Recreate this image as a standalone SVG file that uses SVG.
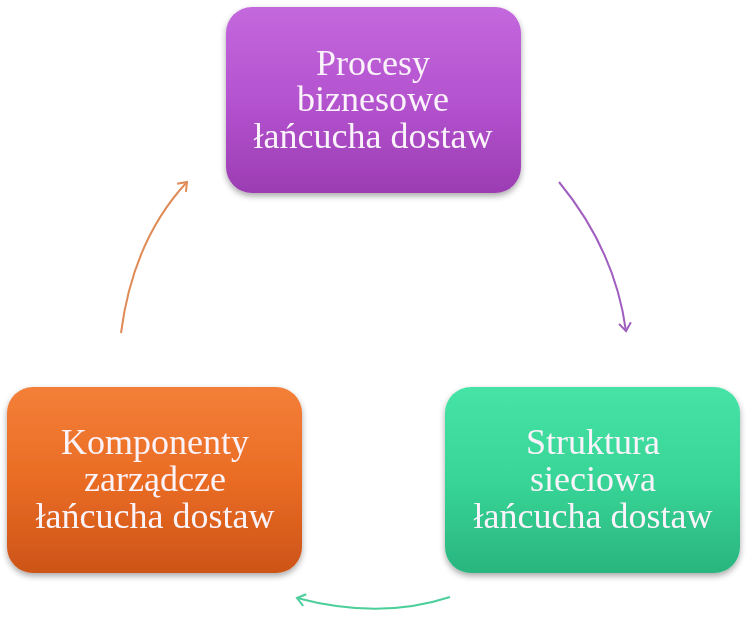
<svg xmlns="http://www.w3.org/2000/svg" width="748" height="620" viewBox="0 0 748 620">
<defs>
<linearGradient id="gP" x1="0" y1="0" x2="0" y2="1"><stop offset="0" stop-color="#c468dd"/><stop offset="0.5" stop-color="#b453cf"/><stop offset="1" stop-color="#9c3db3"/></linearGradient>
<linearGradient id="gG" x1="0" y1="0" x2="0" y2="1"><stop offset="0" stop-color="#46e3a6"/><stop offset="0.5" stop-color="#38d597"/><stop offset="1" stop-color="#29b57e"/></linearGradient>
<linearGradient id="gO" x1="0" y1="0" x2="0" y2="1"><stop offset="0" stop-color="#f37f38"/><stop offset="0.5" stop-color="#ea6c24"/><stop offset="1" stop-color="#cc5418"/></linearGradient>
<filter id="sh" x="-10%" y="-10%" width="120%" height="125%"><feGaussianBlur in="SourceAlpha" stdDeviation="3"/><feOffset dx="0" dy="3"/><feComponentTransfer><feFuncA type="linear" slope="0.35"/></feComponentTransfer><feMerge><feMergeNode/><feMergeNode in="SourceGraphic"/></feMerge></filter>
<marker id="aP" markerWidth="14" markerHeight="14" refX="10" refY="7" orient="auto" markerUnits="userSpaceOnUse"><path d="M2,1 L10,7 L2,13" fill="none" stroke="#a05fc0" stroke-width="2"/></marker>
<marker id="aG" markerWidth="14" markerHeight="14" refX="10" refY="7" orient="auto" markerUnits="userSpaceOnUse"><path d="M2,1 L10,7 L2,13" fill="none" stroke="#4ccf9a" stroke-width="2"/></marker>
<marker id="aO" markerWidth="14" markerHeight="14" refX="10" refY="7" orient="auto" markerUnits="userSpaceOnUse"><path d="M2,1 L10,7 L2,13" fill="none" stroke="#e08a55" stroke-width="2"/></marker>
</defs>
<style>
.t{font-family:"Liberation Serif","Times New Roman",serif;font-size:36px;fill:#fbf3fa;text-anchor:middle}
.c{fill:none;stroke-width:2}
</style>
<rect width="748" height="620" fill="#ffffff"/>
<g id="connectors">
<path class="c" d="M559,182 Q615,250 626,331" stroke="#a05fc0" marker-end="url(#aP)"/>
<path class="c" d="M450,597 Q380,620 297,598" stroke="#4ccf9a" marker-end="url(#aG)"/>
<path class="c" d="M121,333 Q133,240 187,182" stroke="#e08a55" marker-end="url(#aO)"/>
</g>
<g id="node-procesy" filter="url(#sh)">
<rect x="226" y="7" width="295" height="186" rx="26" fill="url(#gP)"/>
<text class="t" x="373" y="75">Procesy</text>
<text class="t" x="373" y="111">biznesowe</text>
<text class="t" x="373" y="148">łańcucha dostaw</text>
</g>
<g id="node-struktura" filter="url(#sh)">
<rect x="445" y="387" width="295" height="186" rx="26" fill="url(#gG)"/>
<text class="t" x="593" y="454">Struktura</text>
<text class="t" x="593" y="491">sieciowa</text>
<text class="t" x="593" y="528">łańcucha dostaw</text>
</g>
<g id="node-komponenty" filter="url(#sh)">
<rect x="7" y="387" width="295" height="186" rx="26" fill="url(#gO)"/>
<text class="t" x="155" y="454">Komponenty</text>
<text class="t" x="155" y="491">zarządcze</text>
<text class="t" x="155" y="528">łańcucha dostaw</text>
</g>
</svg>
